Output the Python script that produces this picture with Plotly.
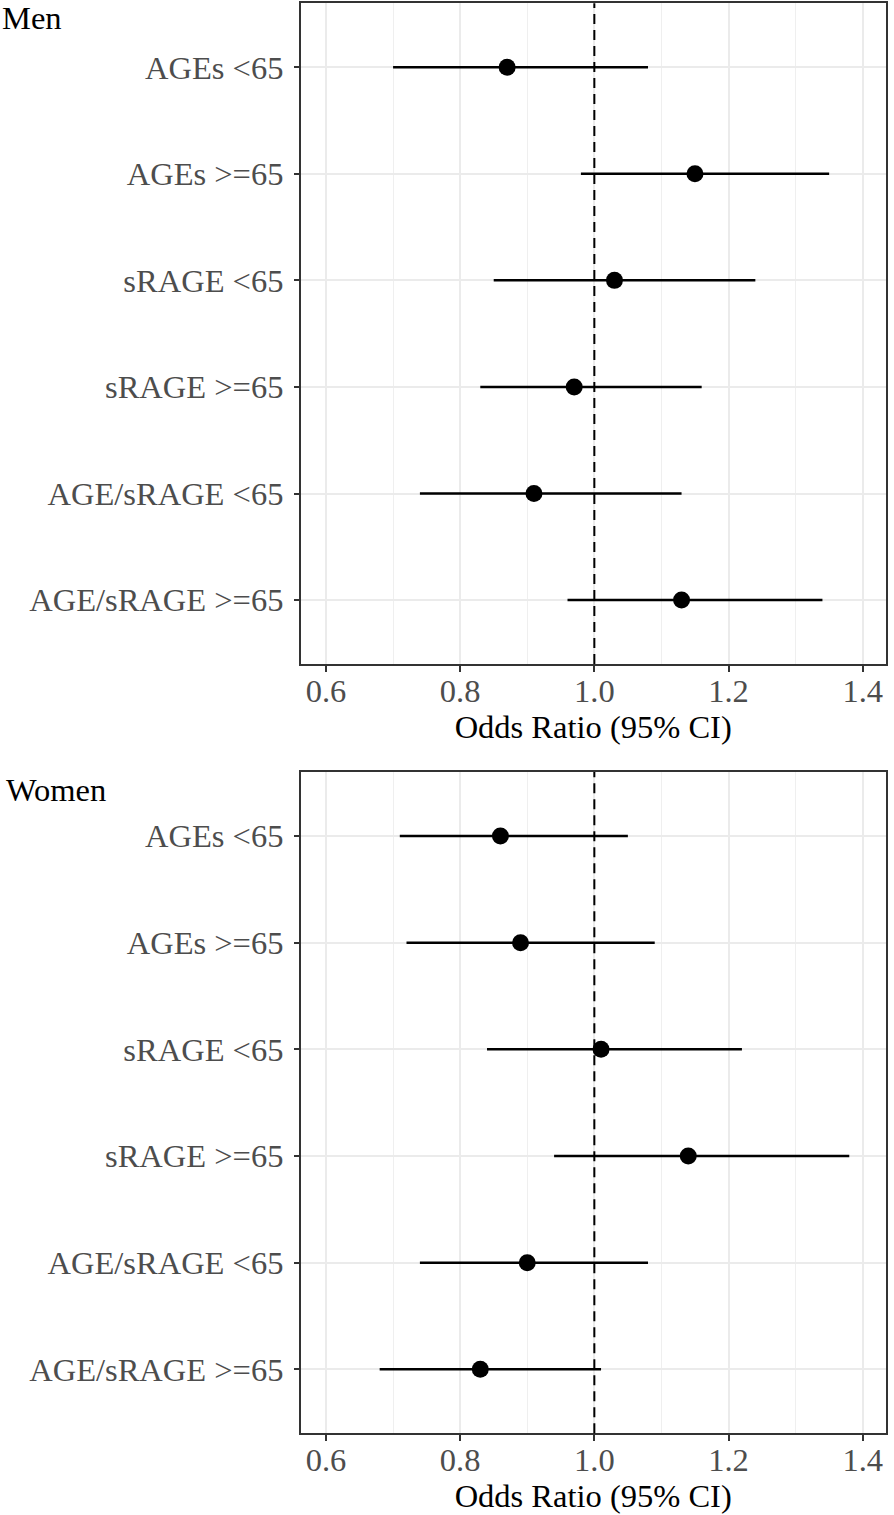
import plotly.graph_objects as go

categories = ["AGEs <65", "AGEs >=65", "sRAGE <65", "sRAGE >=65",
              "AGE/sRAGE <65", "AGE/sRAGE >=65"]

men_or = [0.87, 1.15, 1.03, 0.97, 0.91, 1.13]
men_lo = [0.70, 0.98, 0.85, 0.83, 0.74, 0.96]
men_hi = [1.08, 1.35, 1.24, 1.16, 1.13, 1.34]

women_or = [0.86, 0.89, 1.01, 1.14, 0.90, 0.83]
women_lo = [0.71, 0.72, 0.84, 0.94, 0.74, 0.68]
women_hi = [1.05, 1.09, 1.22, 1.38, 1.08, 1.01]

x_ticks = [0.6, 0.8, 1.0, 1.2, 1.4]
x_ticktext = ["0.6", "0.8", "1.0", "1.2", "1.4"]
panel_titles = ["Men", "Women"]
x_title = "Odds Ratio (95% CI)"

FONT = "Liberation Serif"
FS = 32.5
W, H = 894, 1515

fig = go.Figure()

panels = [(men_or, men_lo, men_hi), (women_or, women_lo, women_hi)]
for i, (orv, lo, hi) in enumerate(panels):
    sfx = "" if i == 0 else "2"
    fig.add_trace(go.Scatter(
        x=orv, y=categories, mode="markers",
        xaxis="x" + sfx, yaxis="y" + sfx,
        marker=dict(color="black", size=17, line=dict(width=0)),
        error_x=dict(type="data", symmetric=False,
                     array=[h - o for h, o in zip(hi, orv)],
                     arrayminus=[o - l for o, l in zip(orv, lo)],
                     width=0, thickness=2.5, color="black"),
        showlegend=False, hoverinfo="skip",
    ))
    fig.add_shape(type="line", xref="x" + sfx, yref="y" + sfx + " domain",
                  x0=1.0, x1=1.0, y0=0, y1=1,
                  line=dict(color="black", width=2, dash="10px,6px"), layer="above")

def px_x(p):
    return p / W

def px_y(p):
    return 1 - p / H

xdom = [px_x(300.7), px_x(885.7)]
doms = [[px_y(664), px_y(3.3)], [px_y(1433.3), px_y(772)]]

xrange = [0.5623, 1.4343]
common_x = dict(
    range=xrange, tickvals=x_ticks, ticktext=x_ticktext,
    showgrid=True, gridcolor="#EBEBEB", gridwidth=2,
    minor=dict(dtick=0.1, tick0=0.5, showgrid=True, gridcolor="#EFEFEF", gridwidth=1, ticks=""),
    ticks="outside", ticklen=6, tickwidth=1.5, tickcolor="#333333",
    showline=True, linecolor="#333333", linewidth=1.5, mirror=True,
    tickfont=dict(family=FONT, size=FS, color="#4D4D4D"),
    ticklabelstandoff=-9,
    title=dict(text=x_title, font=dict(family=FONT, size=FS, color="black"), standoff=3),
    zeroline=False, domain=xdom,
)
common_y = dict(
    type="category", categoryarray=categories, range=[5.6, -0.6],
    showgrid=True, gridcolor="#EBEBEB", gridwidth=2,
    ticks="outside", ticklen=5, tickwidth=1.5, tickcolor="#333333",
    showline=True, linecolor="#333333", linewidth=1.5, mirror=True,
    tickfont=dict(family=FONT, size=FS, color="#4D4D4D"),
    ticklabelstandoff=4,
    zeroline=False,
)

fig.update_layout(
    width=W, height=H,
    margin=dict(l=0, r=0, t=0, b=0),
    paper_bgcolor="white", plot_bgcolor="white",
    xaxis=dict(**common_x, anchor="y"),
    xaxis2=dict(**common_x, anchor="y2"),
    yaxis=dict(**common_y, domain=doms[0], anchor="x"),
    yaxis2=dict(**common_y, domain=doms[1], anchor="x2"),
    annotations=[
        dict(text=panel_titles[0], x=px_x(0), y=px_y(18), xref="paper", yref="paper",
             xanchor="left", yanchor="middle", showarrow=False,
             font=dict(family=FONT, size=FS, color="black")),
        dict(text=panel_titles[1], x=px_x(4), y=px_y(790), xref="paper", yref="paper",
             xanchor="left", yanchor="middle", showarrow=False,
             font=dict(family=FONT, size=FS, color="black")),
    ],
)

fig.write_html("out.html", config={"displayModeBar": False},
               post_script="document.body.style.margin='0';document.body.style.overflow='hidden';")
